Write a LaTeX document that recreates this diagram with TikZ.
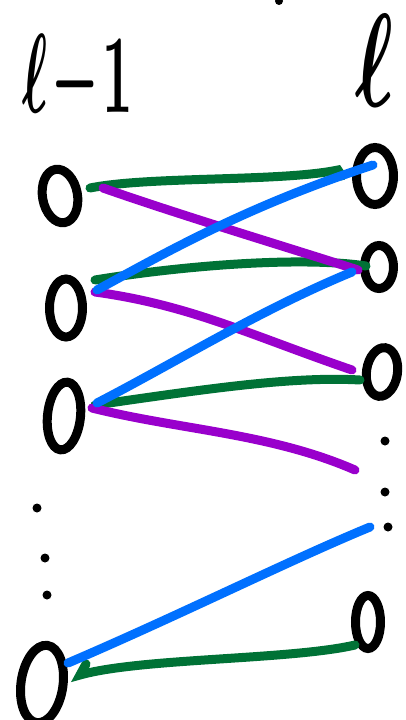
\documentclass[tikz,border=0pt]{standalone}
\usepackage{graphicx}
\usetikzlibrary{shapes.geometric}
\definecolor{cgreen}{RGB}{0,114,54}
\definecolor{cpurple}{RGB}{153,0,204}
\definecolor{cblue}{RGB}{0,112,255}
\tikzset{
  neuron/.style={ellipse, draw=black, line width=9pt, inner sep=0pt},
  wire/.style={line width=9pt, line cap=round},
  gwire/.style={wire, cgreen},
  pwire/.style={wire, cpurple},
  bwire/.style={wire, cblue},
  vdot/.style={circle, fill=black, inner sep=0pt, minimum size=9pt},
  lbl/.style={inner sep=0pt}
}
\begin{document}
\begin{tikzpicture}[x=1pt,y=-1pt]
\useasboundingbox (0,0) rectangle (406,720);
% labels
\node[lbl] (labL) at (78,81) {\resizebox{110pt}{78pt}{\boldmath$\ell\!-\!1$}};
\node[lbl] (labR) at (375,60) {\resizebox{38pt}{92pt}{\boldmath$\ell$}};
\node[vdot, minimum size=8pt] (topdot) at (279,1) {};
% left layer
\node[neuron, minimum width=35pt, minimum height=54pt, rotate=10] (L1) at (60,196) {};
\node[neuron, minimum width=33pt, minimum height=58pt] (L2) at (66,308) {};
\node[neuron, minimum width=33pt, minimum height=68pt, rotate=-6] (L3) at (64,416) {};
\node[neuron, minimum width=42pt, minimum height=78pt, rotate=-8] (L4) at (42,684) {};
% right layer
\node[neuron, minimum width=37pt, minimum height=57pt] (R1) at (375,176) {};
\node[neuron, minimum width=29pt, minimum height=43pt] (R2) at (379,267) {};
\node[neuron, minimum width=31pt, minimum height=49pt, rotate=-8] (R3) at (382,372) {};
\node[neuron, minimum width=25pt, minimum height=53pt] (R4) at (368,622) {};
% dots
\node[vdot] (ld1) at (37,508) {};
\node[vdot] (ld2) at (45,558) {};
\node[vdot] (ld3) at (47,595) {};
\node[vdot] (rd1) at (385,441) {};
\node[vdot] (rd2) at (385,492) {};
\node[vdot] (rd3) at (388,527) {};
% free ends
\coordinate (P3end) at (355,470);
\coordinate (B3end) at (370,527);
% green
\draw[gwire] ([shift={(30,-8)}]L1.center) .. controls (150,176) and (280,182) .. ([shift={(-37,-6)}]R1.center) -- ([shift={(-33,0)}]R1.center);
\draw[gwire] ([shift={(29,-28)}]L2.center) .. controls (180,266) and (300,256) .. ([shift={(-13,-1)}]R2.center);
\draw[gwire] ([shift={(31,-11)}]L3.center) .. controls (200,390) and (290,376) .. ([shift={(-22,8)}]R3.center);
\draw[gwire] ([shift={(44,-20)}]L4.center) -- ([shift={(38,-9)}]L4.center) .. controls (140,658) and (290,660) .. ([shift={(-13,23)}]R4.center);
% purple
\draw[pwire] ([shift={(43,-8)}]L1.center) .. controls (180,215) and (280,245) .. ([shift={(-21,3)}]R2.center);
\draw[pwire] ([shift={(29,-16)}]L2.center) .. controls (190,305) and (250,335) .. ([shift={(-30,-2)}]R3.center);
\draw[pwire] ([shift={(28,-8)}]L3.center) .. controls (180,430) and (270,433) .. (P3end);
% blue
\draw[bwire] ([shift={(31,-18)}]L2.center) .. controls (170,250) and (250,205) .. ([shift={(-2,-11)}]R1.center);
\draw[bwire] ([shift={(33,-13)}]L3.center) .. controls (180,360) and (260,310) .. ([shift={(-27,5)}]R2.center);
\draw[bwire] ([shift={(26,-21)}]L4.center) .. controls (180,615) and (290,560) .. (B3end);
\end{tikzpicture}
\end{document}
